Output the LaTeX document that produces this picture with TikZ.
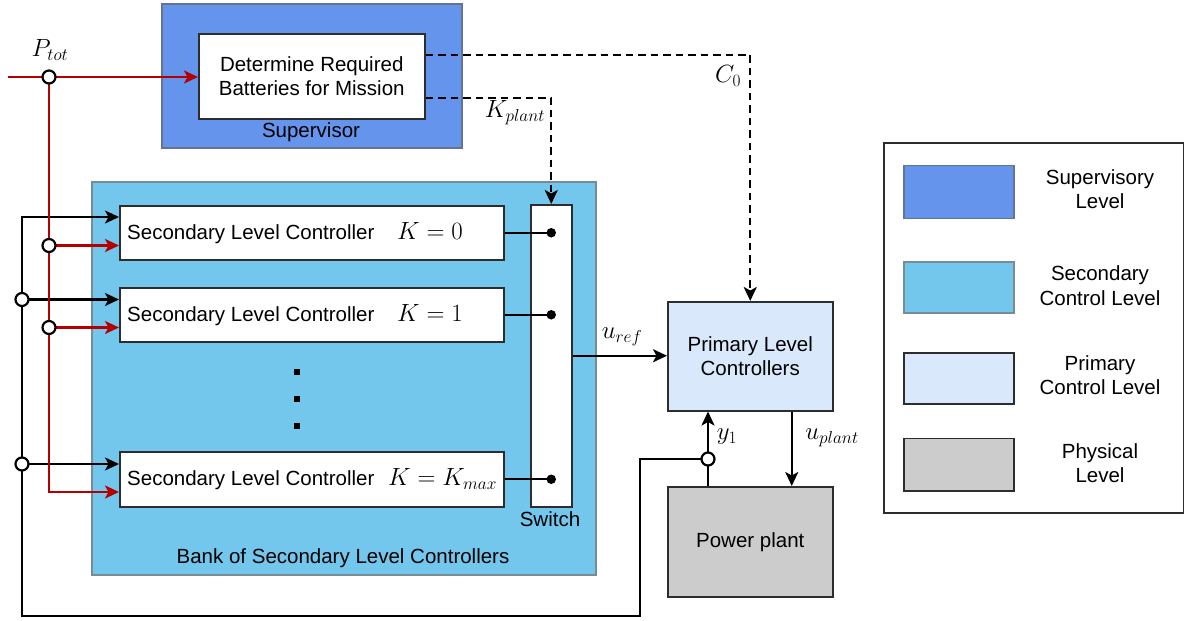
\documentclass[tikz,border=0pt]{standalone}
\usepackage[no-math]{fontspec}
\setmainfont{Liberation Sans}
\usetikzlibrary{arrows.meta,calc}
\definecolor{supfill}{RGB}{101,148,237}
\definecolor{supline}{RGB}{100,115,150}
\definecolor{bankfill}{RGB}{115,198,236}
\definecolor{bankline}{RGB}{120,140,150}
\definecolor{primfill}{RGB}{218,232,252}
\definecolor{plantfill}{RGB}{204,204,204}
\definecolor{boxline}{RGB}{45,45,45}
\definecolor{redline}{RGB}{180,0,0}
\newcommand\mytxt{\fontsize{20.5}{24.5}\selectfont}
\newcommand\mymath{\fontsize{24}{28}\selectfont}
\begin{document}
\begin{tikzpicture}[x=1pt,y=-1pt,
  blk/.style={draw=boxline, line width=1.5pt, inner sep=0pt, anchor=north west, font=\mytxt, align=center},
  lbl/.style={font=\mytxt, inner sep=0pt, align=center},
  mlbl/.style={font=\mymath, inner sep=0pt},
  conn/.style={line width=2.3pt, draw=black},
  arr/.style={conn, -{Stealth[length=14pt,width=13pt,inset=3.5pt]}},
  redarr/.style={arr, draw=redline},
  dasharr/.style={arr, dash pattern=on 7.5pt off 5pt},
  junc/.style={circle, draw=black, fill=white, line width=2.2pt, inner sep=0pt, minimum size=13pt},
  dot/.style={circle, fill=black, inner sep=0pt, minimum size=9.5pt},
  sq/.style={rectangle, fill=black, inner sep=0pt, minimum size=6.5pt}]
\useasboundingbox (0,0) rectangle (1184,621);

% Supervisor
\node[blk, fill=supfill, draw=supline, minimum width=300pt, minimum height=144pt] (sup) at (161,3) {};
\node[lbl] (suplbl) at (311,132) {Supervisor};
\node[blk, fill=white, minimum width=226pt, minimum height=85pt] (det) at (198,33) {Determine Required\\Batteries for Mission};

% Bank
\node[blk, fill=bankfill, draw=bankline, minimum width=504pt, minimum height=393pt] (bank) at (91,181) {};
\node[lbl] (banklbl) at (343,558) {Bank of Secondary Level Controllers};

\node[blk, fill=white, minimum width=384pt, minimum height=54pt] (c0) at (119,205) {};
\node[blk, fill=white, minimum width=384pt, minimum height=54pt] (c1) at (119,287) {};
\node[blk, fill=white, minimum width=384pt, minimum height=55pt] (ck) at (119,451) {};

\node[lbl, anchor=base west] (t0) at ($(c0.west)+(8,6.5)$) {Secondary Level Controller};
\node[lbl, anchor=base west] (t1) at ($(c1.west)+(8,6.5)$) {Secondary Level Controller};
\node[lbl, anchor=base west] (tk) at ($(ck.west)+(8,6.5)$) {Secondary Level Controller};
\node[mlbl, anchor=base west] (k0) at ($(c0.west)+(278,6.5)$) {$K=0$};
\node[mlbl, anchor=base west] (k1) at ($(c1.west)+(278,6.5)$) {$K=1$};
\node[mlbl, anchor=base west] (kk) at ($(ck.west)+(269,6.5)$) {$K=K_{max}$};

\node[sq] (e1) at (297,372) {};
\node[sq] (e2) at (297,399) {};
\node[sq] (e3) at (297,426) {};

% Switch
\node[blk, fill=white, minimum width=41pt, minimum height=302pt] (sw) at (530,204) {};
\node[lbl] (swlbl) at (550,519) {Switch};
\node[dot] (d0) at (c0.east -| sw.center) {};
\node[dot] (d1) at (c1.east -| sw.center) {};
\node[dot] (dk) at (ck.east -| sw.center) {};
\draw[conn] (c0.east) -- (d0.center);
\draw[conn] (c1.east) -- (d1.center);
\draw[conn] (ck.east) -- (dk.center);

% Primary and plant
\node[blk, fill=primfill, minimum width=165pt, minimum height=109pt] (pr) at (667,301) {Primary Level\\Controllers};
\node[blk, fill=plantfill, minimum width=165pt, minimum height=110pt] (pp) at (667,486) {Power plant};

% Dashed supervisor outputs
\draw[dasharr] ([yshift=21.5pt]det.east) -| (pr.north);
\draw[dasharr] ([yshift=-21.5pt]det.east) -| (sw.north);
\node[mlbl] (c0lbl) at (728,76) {$C_0$};
\node[mlbl] (kplbl) at (515,113) {$K_{plant}$};

% u_ref, u_plant, y1
\draw[arr] (sw.east) -- (sw.east -| pr.west);
\node[mlbl] (ureflbl) at (622,337) {$u_{ref}$};
\draw[arr] ([xshift=41.5pt]pr.south) -- ([xshift=41.5pt]pp.north);
\node[mlbl] (uplbl) at (832,438) {$u_{plant}$};
\coordinate (jy) at (708,459);
\draw[conn] (jy |- pp.north) -- (jy);
\draw[arr] (jy) -- (jy |- pr.south);
\node[mlbl] (y1lbl) at (727,437) {$y_1$};

% Feedback (black)
\coordinate (fb1) at (640,459);
\coordinate (fb2) at (640,616);
\coordinate (fb3) at (22,616);
\coordinate (fb4) at (22,217);
\coordinate (bj1) at (22,299.5);
\coordinate (bjk) at (22,464);
\draw[arr] (jy) -- (fb1) -- (fb2) -- (fb3) -- (fb4) -- (fb4 -| c0.west);
\draw[arr] (bj1) -- (bj1 -| c1.west);
\draw[arr] (bjk) -- (bjk -| ck.west);

% Ptot (red)
\coordinate (rstart) at (8,77);
\coordinate (rj0) at (49,77);
\coordinate (rj1) at (49,245.5);
\coordinate (rj2) at (49,327.5);
\coordinate (rk) at (49,492);
\draw[redarr] (rstart) -- (rstart -| det.west);
\draw[redarr] (rj0) -- (rk) -- (rk -| ck.west);
\draw[redarr] (rj1) -- (rj1 -| c0.west);
\draw[redarr] (rj2) -- (rj2 -| c1.west);
\node[mlbl] (ptotlbl) at (50,50) {$P_{tot}$};

% Junctions
\node[junc] (jr0) at (rj0) {};
\node[junc] (jr1) at (rj1) {};
\node[junc] (jr2) at (rj2) {};
\node[junc] (jb1) at (bj1) {};
\node[junc] (jbk) at (bjk) {};
\node[junc] (jyy) at (jy) {};

% Legend
\node[blk, fill=white, minimum width=300pt, minimum height=370pt] (leg) at (883,142) {};
\node[blk, fill=supfill, draw=supline, minimum width=110pt, minimum height=53pt] (s1) at (903,164.5) {};
\node[blk, fill=bankfill, draw=bankline, minimum width=110pt, minimum height=51pt] (s2) at (903,261) {};
\node[blk, fill=primfill, minimum width=110pt, minimum height=51pt] (s3) at (903,352) {};
\node[blk, fill=plantfill, minimum width=110pt, minimum height=52.5pt] (s4) at (903,437.5) {};
\node[lbl] (l1) at (1100,189) {Supervisory\\Level};
\node[lbl] (l2) at (1100,285.5) {Secondary\\Control Level};
\node[lbl] (l3) at (1100,375) {Primary\\Control Level};
\node[lbl] (l4) at (1100,463) {Physical\\Level};
\end{tikzpicture}
\end{document}
